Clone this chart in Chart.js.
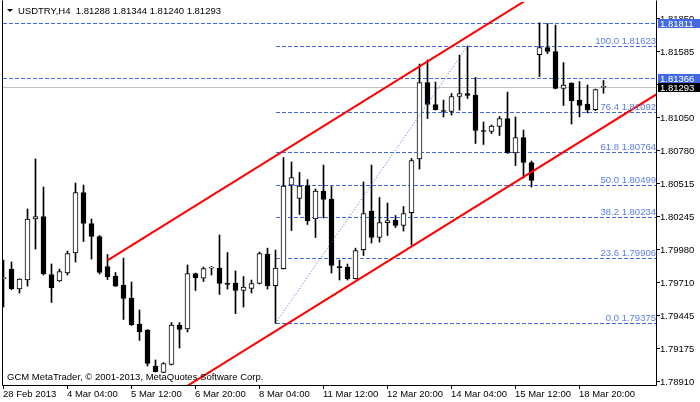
<!DOCTYPE html>
<html>
<head>
<meta charset="utf-8">
<title>USDTRY H4</title>
<script src="https://cdn.jsdelivr.net/npm/chart.js@4.4.0/dist/chart.umd.min.js"></script>
<style>
    html, body { margin: 0; padding: 0; background: #ffffff; }
    canvas { display: block; }
</style>
</head>
<body>
<canvas id="chart" width="700" height="402"></canvas>
<script>
// H4 candles (index 0 = left edge)
var opens = [
    1.79738, 1.79815, 1.79653, 1.79726, 1.80221, 1.80241, 1.79771, 1.79718, 1.79783, 1.79945,
    1.80435, 1.80184, 1.80079, 1.79836, 1.79759, 1.79686, 1.79580, 1.79369, 1.79321, 1.79029,
    1.78976, 1.79041, 1.79361, 1.79329, 1.79779, 1.79742, 1.79823, 1.79823, 1.79702, 1.79702,
    1.79641, 1.79657, 1.79698, 1.79937, 1.79681, 1.79819, 1.80496, 1.80387, 1.80492, 1.80221,
    1.80448, 1.80383, 1.79836, 1.79831, 1.79738, 1.79973, 1.80285, 1.80071, 1.80192, 1.80212,
    1.80168, 1.80273, 1.80707, 1.81327, 1.81149, 1.81100, 1.81092, 1.81214, 1.81238, 1.81226,
    1.80938, 1.80930, 1.80971, 1.81035, 1.80756, 1.80881, 1.80679, 1.81554, 1.81611, 1.81579,
    1.81279, 1.81323, 1.81185, 1.81153, 1.81108, 1.81288
];
var highs = [
    1.79888, 1.79872, 1.79736, 1.80302, 1.80707, 1.80480, 1.79856, 1.79815, 1.79961, 1.80512,
    1.80496, 1.80221, 1.80087, 1.79933, 1.79787, 1.79904, 1.79710, 1.79483, 1.79325, 1.79078,
    1.79057, 1.79381, 1.79381, 1.79848, 1.79783, 1.79831, 1.79836, 1.80091, 1.79949, 1.79799,
    1.79754, 1.79726, 1.79953, 1.79985, 1.79969, 1.80719, 1.80683, 1.80598, 1.80541, 1.80464,
    1.80658, 1.80484, 1.79888, 1.79856, 1.79985, 1.80521, 1.80658, 1.80395, 1.80350, 1.80249,
    1.80322, 1.80711, 1.81477, 1.81510, 1.81331, 1.81185, 1.81238, 1.81550, 1.81623, 1.81368,
    1.81007, 1.80983, 1.81052, 1.81250, 1.81048, 1.80942, 1.80691, 1.81811, 1.81805, 1.81793,
    1.81489, 1.81326, 1.81335, 1.81307, 1.81274, 1.81344
];
var lows = [
    1.79507, 1.79649, 1.79621, 1.79677, 1.79977, 1.79767, 1.79544, 1.79714, 1.79767, 1.79872,
    1.80038, 1.79896, 1.79775, 1.79730, 1.79673, 1.79406, 1.79357, 1.79236, 1.79029, 1.78980,
    1.78974, 1.79037, 1.79175, 1.79305, 1.79641, 1.79714, 1.79767, 1.79609, 1.79653, 1.79454,
    1.79507, 1.79621, 1.79694, 1.79653, 1.79375, 1.79815, 1.80127, 1.80257, 1.80176, 1.80071,
    1.80229, 1.79783, 1.79726, 1.79726, 1.79734, 1.79925, 1.80026, 1.80034, 1.80087, 1.80152,
    1.80123, 1.80010, 1.80626, 1.81035, 1.81104, 1.81048, 1.81064, 1.81104, 1.81198, 1.80833,
    1.80825, 1.80914, 1.80898, 1.80752, 1.80654, 1.80553, 1.80480, 1.81376, 1.81562, 1.81275,
    1.81141, 1.80991, 1.81048, 1.81080, 1.81100, 1.81240
];
var closes = [
    1.79742, 1.79653, 1.79734, 1.80221, 1.80241, 1.79775, 1.79665, 1.79795, 1.79941, 1.80435,
    1.80184, 1.80079, 1.79787, 1.79754, 1.79677, 1.79576, 1.79365, 1.79305, 1.79049, 1.78984,
    1.79049, 1.79361, 1.79325, 1.79779, 1.79746, 1.79819, 1.79827, 1.79698, 1.79690, 1.79641,
    1.79669, 1.79698, 1.79941, 1.79681, 1.79823, 1.80488, 1.80557, 1.80488, 1.80208, 1.80448,
    1.80379, 1.79844, 1.79827, 1.79738, 1.79965, 1.80265, 1.80071, 1.80192, 1.80208, 1.80168,
    1.80265, 1.80695, 1.81327, 1.81149, 1.81108, 1.81092, 1.81214, 1.81238, 1.81222, 1.80938,
    1.80930, 1.80975, 1.81035, 1.80756, 1.80881, 1.80679, 1.80533, 1.81611, 1.81579, 1.81279,
    1.81307, 1.81181, 1.81141, 1.81108, 1.81270, 1.81293
];

// time axis labels, one every 8 bars
var timeLabels = ["28 Feb 2013", "4 Mar 04:00", "5 Mar 12:00", "6 Mar 20:00", "8 Mar 04:00",
    "11 Mar 12:00", "12 Mar 20:00", "14 Mar 04:00", "15 Mar 12:00", "18 Mar 20:00"];
var timeLabelBars = [0, 8, 16, 24, 32, 40, 48, 56, 64, 72];

// price axis labels
var priceTicks = [1.81850, 1.81585, 1.81315, 1.81050, 1.80780, 1.80515, 1.80245,
    1.79980, 1.79710, 1.79445, 1.79175, 1.78910];

// fibonacci retracement (from bar 34 low to bar 58 high)
var fibLevels = ["0.0", "23.6", "38.2", "50.0", "61.8", "76.4", "100.0"];
var fibPrices = [1.79375, 1.79906, 1.80234, 1.80499, 1.80764, 1.81092, 1.81623];
var fibFrom = [34, 1.79375];
var fibTo = [58, 1.81623];

// horizontal lines and bid
var hLines = [1.81811, 1.81366];
var bidPrice = 1.81293;

// red channel
var channelUpper = [[13, 1.79886], [81.75, 1.82657]];
var channelLower = [[20, 1.78748], [81.75, 1.81237]];

var header = "USDTRY,H4  1.81288 1.81344 1.81240 1.81293";
var copyright = "GCM MetaTrader, \u00a9 2001-2013, MetaQuotes Software Corp.";

var FONT = '9.5px "Liberation Sans", Arial, sans-serif';
var BLUE = '#4169e1';

var wicks = [];
var bodies = [];
var bodyColors = [];
for (var i = 0; i < opens.length; i++) {
    wicks.push({x: i, y: [lows[i], highs[i]]});
    bodies.push({x: i, y: [opens[i], closes[i]]});
    bodyColors.push(closes[i] >= opens[i] ? '#ffffff' : '#000000');
}

function toPoints(arr) {
    return arr.map(function (p) { return {x: p[0], y: p[1]}; });
}

var decorPlugin = {
    id: 'decor',
    beforeDatasetsDraw: function (chart) {
        var ctx = chart.ctx;
        var xs = chart.scales.x, ys = chart.scales.y;
        var area = chart.chartArea;
        ctx.save();
        ctx.lineWidth = 1;

        // bid line
        var by = Math.round(ys.getPixelForValue(bidPrice)) + 0.5;
        ctx.strokeStyle = '#c0c0c0';
        ctx.beginPath();
        ctx.moveTo(area.left, by);
        ctx.lineTo(area.right, by);
        ctx.stroke();

        ctx.strokeStyle = BLUE;
        ctx.setLineDash([4, 2]);
        hLines.forEach(function (p) {
            var y = Math.round(ys.getPixelForValue(p)) + 0.5;
            ctx.beginPath();
            ctx.moveTo(area.left, y);
            ctx.lineTo(area.right, y);
            ctx.stroke();
        });

        var fx = Math.round(xs.getPixelForValue(fibFrom[0]));
        fibPrices.forEach(function (p) {
            var y = Math.round(ys.getPixelForValue(p)) + 0.5;
            ctx.beginPath();
            ctx.moveTo(fx, y);
            ctx.lineTo(area.right, y);
            ctx.stroke();
        });
        ctx.restore();
    },
    afterDraw: function (chart) {
        var ctx = chart.ctx;
        var xs = chart.scales.x, ys = chart.scales.y;
        var area = chart.chartArea;
        ctx.save();
        ctx.font = FONT;

        // fib labels
        ctx.fillStyle = '#5a7ee6';
        ctx.textAlign = 'right';
        fibPrices.forEach(function (p, k) {
            var y = Math.round(ys.getPixelForValue(p));
            ctx.fillText(fibLevels[k] + ' ' + p.toFixed(5), area.right - 1, y - 2);
        });

        // frame
        ctx.strokeStyle = '#000000';
        ctx.lineWidth = 1;
        ctx.beginPath();
        ctx.moveTo(area.left - 0.5, area.top - 1.5);
        ctx.lineTo(area.left - 0.5, area.bottom + 0.5);
        ctx.lineTo(area.right - 0.5, area.bottom + 0.5);
        ctx.lineTo(area.right - 0.5, area.top - 1.5);
        ctx.stroke();

        // time axis
        ctx.fillStyle = '#000000';
        ctx.textAlign = 'left';
        timeLabelBars.forEach(function (b, k) {
            var x = Math.round(xs.getPixelForValue(b)) - 0.5;
            ctx.beginPath();
            ctx.moveTo(x, area.bottom);
            ctx.lineTo(x, area.bottom + 4);
            ctx.stroke();
            ctx.fillText(timeLabels[k], x - 0.5, area.bottom + 12);
        });

        // price axis
        priceTicks.forEach(function (p) {
            var y = Math.round(ys.getPixelForValue(p)) + 0.5;
            ctx.beginPath();
            ctx.moveTo(area.right, y);
            ctx.lineTo(area.right + 3, y);
            ctx.stroke();
            ctx.fillText(p.toFixed(5), area.right + 3, y + 3);
        });

        // price boxes
        function box(p, bg) {
            var y = Math.round(ys.getPixelForValue(p));
            ctx.fillStyle = bg;
            ctx.fillRect(area.right + 1, y - 4, 700 - area.right - 1, 9);
            ctx.fillStyle = '#ffffff';
            ctx.fillText(p.toFixed(5), area.right + 3, y + 3.5);
        }
        hLines.forEach(function (p) { box(p, BLUE); });
        box(bidPrice, '#000000');

        // header and copyright
        ctx.fillStyle = '#000000';
        ctx.beginPath();
        ctx.moveTo(7, 9);
        ctx.lineTo(13, 9);
        ctx.lineTo(10, 12);
        ctx.closePath();
        ctx.fill();
        ctx.fillText(header, 18, 13.5);
        ctx.fillText(copyright, 7, 380);
        ctx.restore();
    }
};

var ctx = document.getElementById('chart').getContext('2d');
var chart = new Chart(ctx, {
    data: {
        datasets: [{
                type: 'line',
                data: toPoints(channelUpper),
                borderColor: '#ff0000',
                borderWidth: 2,
                pointRadius: 0,
                order: 0
            }, {
                type: 'line',
                data: toPoints(channelLower),
                borderColor: '#ff0000',
                borderWidth: 2,
                pointRadius: 0,
                order: 0
            }, {
                type: 'line',
                data: [{x: fibFrom[0], y: fibFrom[1]}, {x: fibTo[0], y: fibTo[1]}],
                borderColor: BLUE,
                borderWidth: 1,
                borderDash: [1, 2],
                pointRadius: 0,
                order: 1
            }, {
                type: 'bar',
                data: bodies,
                backgroundColor: bodyColors,
                borderColor: '#000000',
                borderWidth: 1,
                borderSkipped: false,
                barThickness: 5,
                minBarLength: 1,
                grouped: false,
                order: 2
            }, {
                type: 'bar',
                data: wicks,
                backgroundColor: '#000000',
                borderWidth: 0,
                barThickness: 1,
                grouped: false,
                order: 3
            }]
    },
    options: {
        responsive: false,
        animation: false,
        devicePixelRatio: 1,
        layout: {padding: {left: 3, top: 2, right: 43, bottom: 17}},
        plugins: {legend: {display: false}, tooltip: {enabled: false}},
        scales: {
            x: {type: 'linear', offset: false, min: -0.0625, max: 81.6875, display: false},
            y: {type: 'linear', min: 1.78875, max: 1.81980, display: false}
        }
    },
    plugins: [decorPlugin]
});
</script>
</body>
</html>
